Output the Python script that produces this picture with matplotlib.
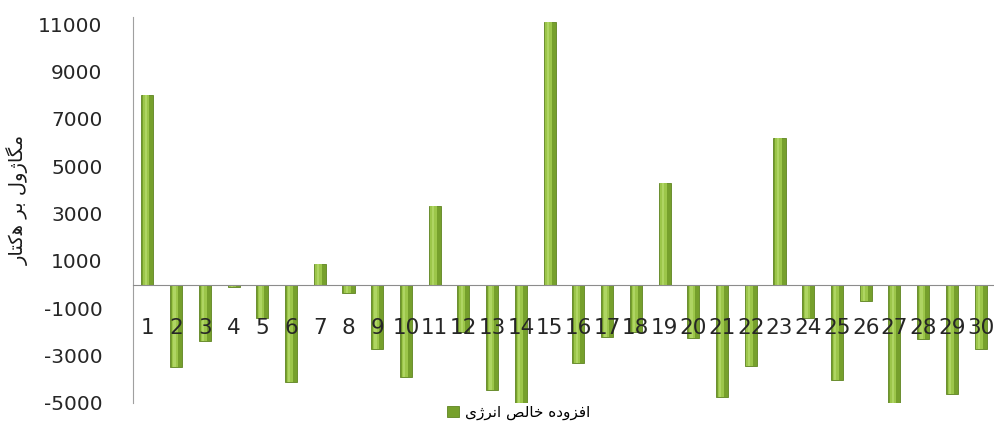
import numpy as np
import matplotlib
matplotlib.use("Agg")
import matplotlib.pyplot as plt

# شماره تیمارها و افزوده خالص انرژی (مگاژول بر هکتار)
treatments = list(range(1, 31))
net_energy = [8000, -3500, -2400, -100, -1400, -4100, 850, -350, -2700, -3900,
              3300, -2000, -4450, -5000, 11100, -3300, -2200, -2000, 4300, -2250,
              -4750, -3450, 6200, -1400, -4050, -700, -5000, -2300, -4600, -2700]
y_ticks = list(range(-5000, 11001, 2000))

# متن فارسی با حروف شکل‌یافته و ترتیب دیداری (matplotlib خودش شکل‌دهی نمی‌کند)
def shaped(forms):
    return "".join(forms)[::-1]

y_title = shaped(["\uFEE3", "\uFB95", "\uFE8E", "\uFB8A", "\uFEED", "\uFEDD", " ",
                  "\uFE91", "\uFEAE", " ",
                  "\uFEEB", "\uFB90", "\uFE98", "\uFE8E", "\uFEAD"])
series_name = shaped(["\uFE8D", "\uFED3", "\uFEB0", "\uFEED", "\uFEA9", "\uFEE9", " ",
                      "\uFEA7", "\uFE8E", "\uFEDF", "\uFEBA", " ",
                      "\uFE8D", "\uFEE7", "\uFEAE", "\uFB8A", "\uFBFC"])

plt.rcParams["font.family"] = ["DejaVu Sans"]

fig = plt.figure(figsize=(9.95, 4.21), dpi=100)
ax = fig.add_axes([0.1337, 0.0428, 0.8663, 0.9168])

x = np.array(treatments)
vals = np.array(net_energy)
# بدنه ستون‌ها با کمی سایه‌روشن استوانه‌ای
ax.bar(x, vals, width=0.42, color="#76a02c", edgecolor="#5f8420", linewidth=0.6,
       zorder=1, label=series_name)
ax.bar(x - 0.04, vals, width=0.22, color="#9cc64a", linewidth=0, zorder=1.1)
ax.bar(x - 0.06, vals, width=0.08, color="#b5d96a", linewidth=0, zorder=1.2, alpha=0.8)

ax.set_xlim(0.5, 30.5)
ax.set_ylim(-5000, 11300)
ax.set_yticks(y_ticks)
ax.set_yticklabels([str(v) for v in y_ticks])
ax.set_xticks(x)
ax.set_xticklabels([str(t) for t in treatments])

for side in ("top", "right"):
    ax.spines[side].set_visible(False)
ax.spines["bottom"].set_position(("data", 0))
ax.spines["bottom"].set_color("#8c8c8c")
ax.spines["left"].set_color("#a0a0a0")
ax.spines["bottom"].set_zorder(5)

ax.tick_params(axis="y", length=0, pad=22, labelsize=14.5, labelcolor="#262626")
ax.tick_params(axis="x", length=0, pad=24, labelsize=15.5, labelcolor="#262626")
ax.xaxis.set_zorder(10)  # شماره‌ها روی ستون‌ها دیده شوند

fig.text(0.018, 0.525, y_title, rotation=90, ha="center", va="center",
         fontsize=14, color="#1a1a1a")

leg = ax.legend(loc="lower center", bbox_to_anchor=(0.447, -0.08), frameon=False,
                fontsize=11, handlelength=0.8, handleheight=0.8, handletextpad=0.4)

fig.savefig("out.png", dpi=100)
